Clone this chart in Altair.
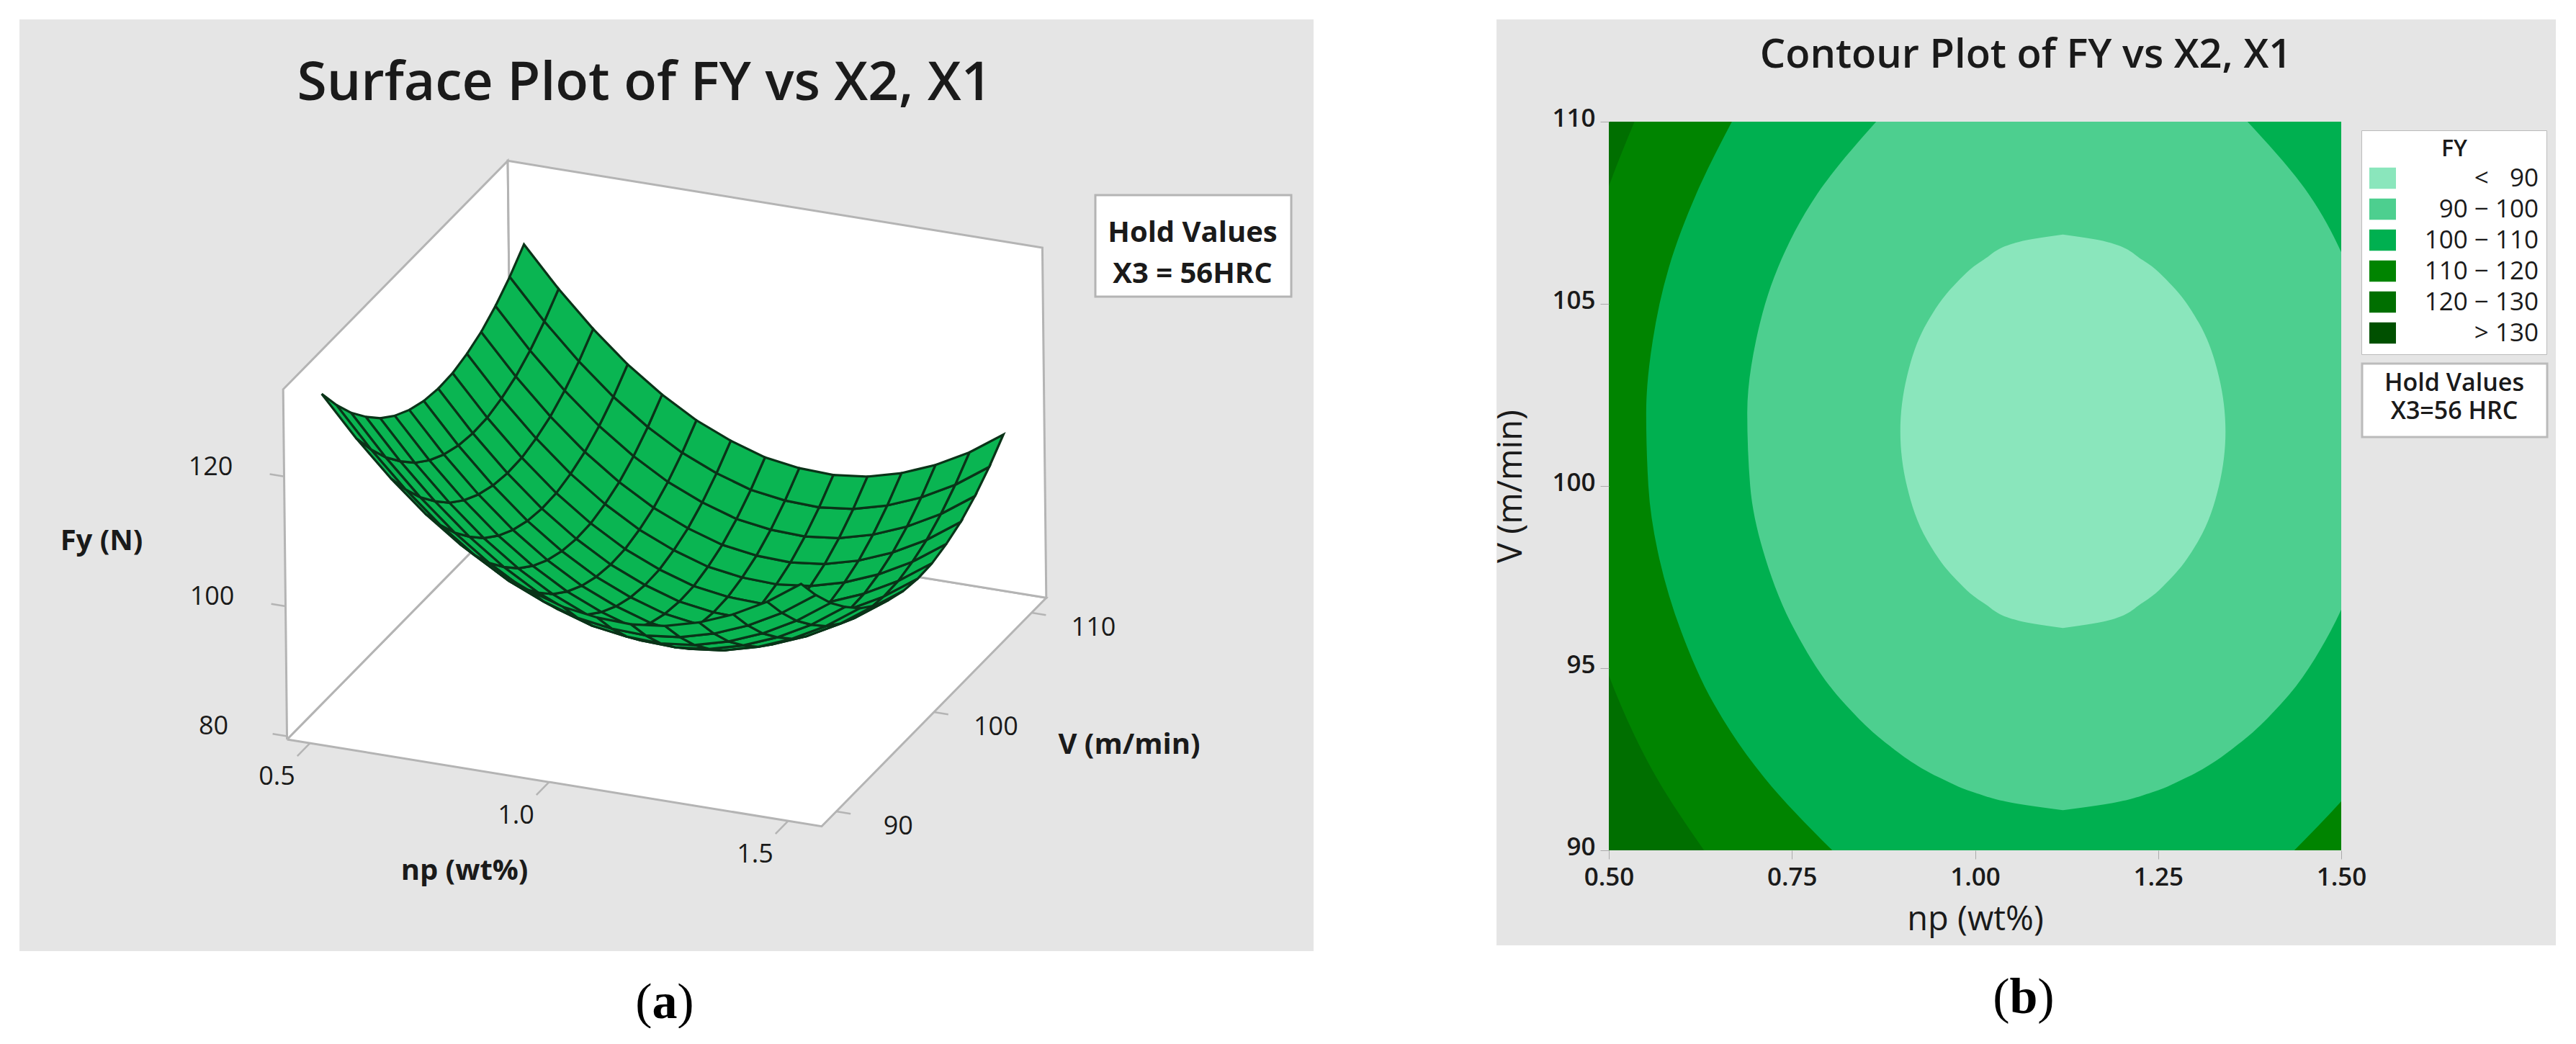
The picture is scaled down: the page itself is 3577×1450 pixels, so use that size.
import altair as alt
import pandas as pd

# ---- panel (a): surface
np_grid = [0.5, 0.5714, 0.6429, 0.7143, 0.7857, 0.8571, 0.9286, 1.0, 1.0714, 1.1429, 1.2143, 1.2857, 1.3571, 1.4286, 1.5]
v_grid = [90, 91.43, 92.86, 94.29, 95.71, 97.14, 98.57, 100, 101.43, 102.86, 104.29, 105.71, 107.14, 108.57, 110]
fy_v090 = [131.0, 125.0, 119.7, 115.1, 111.3, 108.2, 105.9, 104.2, 103.4, 103.2, 103.8, 105.2, 107.3, 110.1, 113.7]
fy_v091 = [127.1, 121.1, 115.8, 111.2, 107.4, 104.3, 102.0, 100.3, 99.5, 99.3, 99.9, 101.3, 103.4, 106.2, 109.8]
fy_v093 = [123.7, 117.7, 112.4, 107.8, 104.0, 100.9, 98.6, 96.9, 96.1, 95.9, 96.5, 97.9, 100.0, 102.8, 106.4]
fy_v094 = [120.9, 114.9, 109.6, 105.0, 101.2, 98.1, 95.8, 94.1, 93.3, 93.1, 93.7, 95.1, 97.2, 100.0, 103.6]
fy_v096 = [118.5, 112.5, 107.2, 102.6, 98.8, 95.7, 93.4, 91.7, 90.9, 90.7, 91.3, 92.7, 94.8, 97.6, 101.2]
fy_v097 = [116.7, 110.7, 105.4, 100.8, 97.0, 93.9, 91.6, 89.9, 89.1, 88.9, 89.5, 90.9, 93.0, 95.8, 99.4]
fy_v099 = [115.4, 109.4, 104.1, 99.5, 95.7, 92.6, 90.3, 88.6, 87.8, 87.6, 88.2, 89.6, 91.7, 94.5, 98.1]
fy_v100 = [114.6, 108.6, 103.3, 98.7, 94.9, 91.8, 89.5, 87.8, 87.0, 86.8, 87.4, 88.8, 90.9, 93.7, 97.3]
fy_v101 = [114.3, 108.3, 103.0, 98.4, 94.6, 91.5, 89.2, 87.5, 86.7, 86.5, 87.1, 88.5, 90.6, 93.4, 97.0]
fy_v103 = [114.5, 108.5, 103.2, 98.6, 94.8, 91.7, 89.4, 87.7, 86.9, 86.7, 87.3, 88.7, 90.8, 93.6, 97.2]
fy_v104 = [115.3, 109.3, 104.0, 99.4, 95.6, 92.5, 90.2, 88.5, 87.7, 87.5, 88.1, 89.5, 91.6, 94.4, 98.0]
fy_v106 = [116.5, 110.5, 105.2, 100.6, 96.8, 93.7, 91.4, 89.7, 88.9, 88.7, 89.3, 90.7, 92.8, 95.6, 99.2]
fy_v107 = [118.3, 112.3, 107.0, 102.4, 98.6, 95.5, 93.2, 91.5, 90.7, 90.5, 91.1, 92.5, 94.6, 97.4, 101.0]
fy_v109 = [120.6, 114.6, 109.3, 104.7, 100.9, 97.8, 95.5, 93.8, 93.0, 92.8, 93.4, 94.8, 96.9, 99.7, 103.3]
fy_v110 = [123.4, 117.4, 112.1, 107.5, 103.7, 100.6, 98.3, 96.6, 95.8, 95.6, 96.2, 97.6, 99.7, 102.5, 106.1]
fy_rows = [fy_v090, fy_v091, fy_v093, fy_v094, fy_v096, fy_v097, fy_v099, fy_v100,
           fy_v101, fy_v103, fy_v104, fy_v106, fy_v107, fy_v109, fy_v110]

np_ticks = [0.5, 1.0, 1.5]
v_ticks = [90, 100, 110]
fy_ticks = [80, 100, 120]

# ---- panel (b): contour boundaries, np at the left and right of each V
bands = ["<  \u200790\u00a0\u00a0", "90  \u2212  100\u00a0\u00a0", "100  \u2212  110\u00a0\u00a0",
         "110  \u2212  120\u00a0\u00a0", "120  \u2212  130\u00a0\u00a0", ">  130\u00a0\u00a0"]
band_colors = ["#8AE6BC", "#4DCF8F", "#00B050", "#008400", "#006F00", "#005000"]

v_120 = [90, 92, 94, 96, 98, 100, 102, 104, 106, 108, 110]
left_120 = [0.630, 0.565, 0.516, 0.48, 0.456, 0.443, 0.44, 0.448, 0.466, 0.496, 0.535]
right_120 = [1.75, 1.8, 1.8, 1.8, 1.8, 1.8, 1.8, 1.8, 1.8, 1.8, 1.75]

v_110 = [90, 92, 94, 96, 98, 100, 102, 104, 106, 108, 110]
left_110 = [0.805, 0.712, 0.644, 0.599, 0.569, 0.554, 0.551, 0.56, 0.582, 0.619, 0.668]
right_110 = [1.436, 1.528, 1.596, 1.641, 1.671, 1.686, 1.689, 1.68, 1.658, 1.621, 1.565]

v_100 = [91.1, 91.3, 91.6, 92, 93, 94, 96, 98, 100, 102, 104, 106, 108, 110]
left_100 = [1.12, 1.052, 0.997, 0.951, 0.875, 0.823, 0.755, 0.714, 0.693, 0.689, 0.701, 0.731, 0.784, 0.865]
right_100 = [1.12, 1.188, 1.243, 1.289, 1.365, 1.417, 1.485, 1.526, 1.547, 1.551, 1.539, 1.509, 1.456, 1.372]

v_90 = [96.1, 96.3, 96.8, 97.5, 98.5, 100, 101.5, 103, 104.5, 105.5, 106.2, 106.7, 106.9]
left_90 = [1.12, 1.06, 1.011, 0.971, 0.935, 0.907, 0.898, 0.907, 0.935, 0.971, 1.011, 1.06, 1.12]
right_90 = [1.12, 1.18, 1.229, 1.269, 1.305, 1.333, 1.342, 1.333, 1.305, 1.269, 1.229, 1.18, 1.12]

FONT = "Open Sans"
GREY = "#E5E5E5"
WALL = "#B4B4B4"
TEXT = "#1A1A1A"
SURF = "#0AB552"
MESH = "#0A3318"

# box limits of the 3d axes
NP_LO, NP_HI = 0.452, 1.57
V_LO, V_HI = 88.5, 111.5
F_LO, F_HI = 79.5, 133.4


def sx(n, v, f):
    return 923 + 664 * (n - 1.011) + 13.56 * (v - 100) - 0.1 * (f - 106.4)


def sy(n, v, f):
    return 686 + 108 * (n - 1.011) - 13.8 * (v - 100) - 9.02 * (f - 106.4)


def depth(n, v, f):
    return -123.7 * n + 5978 * v - 10627 * f


# mesh cells, far ones first
cells = []
for j in range(14):
    for i in range(14):
        corners = [(i, j), (i + 1, j), (i + 1, j + 1), (i, j + 1), (i, j)]
        pts = [(np_grid[a], v_grid[b], fy_rows[b][a]) for a, b in corners]
        d = sum(depth(*p) for p in pts[:4]) / 4
        cells.append((d, pts))
cells.sort(key=lambda c: -c[0])

rows = []
for c, (d, pts) in enumerate(cells):
    for k, p in enumerate(pts):
        # the far side of the surface sits a little right of the box projection
        rows.append({"cell": c, "k": k, "x": sx(*p) + 0.45 * (p[1] - 90) + 1, "y": sy(*p)})
mesh = pd.DataFrame(rows)

walls = []
wall_corners = [
    [(NP_LO, V_LO, F_LO), (NP_HI, V_LO, F_LO), (NP_HI, V_HI, F_LO), (NP_LO, V_HI, F_LO), (NP_LO, V_LO, F_LO)],
    [(NP_LO, V_LO, F_LO), (NP_LO, V_LO, F_HI), (NP_LO, V_HI, F_HI), (NP_LO, V_HI, F_LO), (NP_LO, V_LO, F_LO)],
    [(NP_LO, V_HI, F_LO), (NP_LO, V_HI, F_HI), (NP_HI, V_HI, F_HI), (NP_HI, V_HI, F_LO), (NP_LO, V_HI, F_LO)],
]
for w, pts in enumerate(wall_corners):
    for k, p in enumerate(pts):
        walls.append({"wall": w, "k": k, "x": sx(*p), "y": sy(*p)})
walls = pd.DataFrame(walls)

# tick marks and their labels
tick_rows, tick_text = [], []
for t in np_ticks:
    a, b = (t, V_LO, F_LO), (t, V_LO - 1.3, F_LO)
    tick_rows += [{"t": f"n{t}", "k": 0, "x": sx(*a), "y": sy(*a)}, {"t": f"n{t}", "k": 1, "x": sx(*b), "y": sy(*b)}]
    tick_text.append({"label": f"{t:.1f}", "x": sx(*a) - 46, "y": sy(*a) + 47})
for t in v_ticks:
    a, b = (NP_HI, t, F_LO), (NP_HI + 0.03, t, F_LO)
    tick_rows += [{"t": f"v{t}", "k": 0, "x": sx(*a), "y": sy(*a)}, {"t": f"v{t}", "k": 1, "x": sx(*b), "y": sy(*b)}]
    tick_text.append({"label": str(t), "x": sx(*a) + 86, "y": sy(*a) + 21})
for t in fy_ticks:
    a, b = (NP_LO, V_LO, t), (NP_LO - 0.03, V_LO, t)
    tick_rows += [{"t": f"f{t}", "k": 0, "x": sx(*a), "y": sy(*a)}, {"t": f"f{t}", "k": 1, "x": sx(*b), "y": sy(*b)}]
    tick_text.append({"label": str(t), "x": sx(*a) - 102, "y": sy(*a) - 13})
tick_rows = pd.DataFrame(tick_rows)
tick_text = pd.DataFrame(tick_text)

A_LEFT, A_RIGHT, A_TOP, A_BOTTOM = 27, 1824, 27, 1321
PLOT_TOP = 169  # both plot areas start at this height in the concat
x_a = alt.X("x:Q", axis=None, scale=alt.Scale(domain=[A_LEFT, A_RIGHT], nice=False, zero=False))
y_a = alt.Y("y:Q", axis=None, scale=alt.Scale(domain=[A_BOTTOM, PLOT_TOP], nice=False, zero=False))


def label(text, x, y, size, weight="normal", font=FONT, color=TEXT):
    return alt.Chart(pd.DataFrame({"x": [x], "y": [y], "label": [text]})).mark_text(
        font=font, fontSize=size, fontWeight=weight, color=color, align="center", baseline="middle"
    ).encode(x=x_a, y=y_a, text="label:N")


panel_rect = alt.Chart(pd.DataFrame({"a": [0]})).mark_rect(fill=GREY).encode(
    x=alt.value(0), x2=alt.value(A_RIGHT - A_LEFT), y=alt.value(A_TOP - PLOT_TOP), y2=alt.value(A_BOTTOM - PLOT_TOP))
wall_layer = alt.Chart(walls).mark_line(fill="white", stroke=WALL, strokeWidth=3).encode(
    x=x_a, y=y_a, detail="wall:N", order="k:Q")
tick_layer = alt.Chart(tick_rows).mark_line(stroke=WALL, strokeWidth=2.5).encode(
    x=x_a, y=y_a, detail="t:N", order="k:Q")
mesh_layer = alt.Chart(mesh).mark_line(fill=SURF, stroke=MESH, strokeWidth=3.2).encode(
    x=x_a, y=y_a, detail="cell:N", order="k:Q")
tick_labels = alt.Chart(tick_text).mark_text(font=FONT, fontSize=36, color=TEXT).encode(x=x_a, y=y_a, text="label:N")
hold_box = alt.Chart(pd.DataFrame({"x": [1521], "x2": [1793], "y": [271], "y2": [412]})).mark_rect(
    fill="white", stroke=WALL, strokeWidth=3).encode(x=x_a, x2="x2:Q", y=y_a, y2="y2:Q")

panel_a = alt.layer(
    panel_rect, wall_layer, tick_layer, mesh_layer, tick_labels, hold_box,
    label("Surface Plot of FY vs X2, X1", 895, 116, 75, 600),
    label("Hold Values", 1656, 324, 40, "bold"),
    label("X3 = 56HRC", 1656, 381, 40, "bold"),
    label("Fy (N)", 141, 752, 40, "bold"),
    label("np (wt%)", 645, 1210, 40, "bold"),
    label("V (m/min)", 1568, 1035, 40, "bold"),
    label("(", 894, 1393, 70, font="Liberation Serif", color="black"),
    label("a", 923, 1393, 70, "bold", font="Liberation Serif", color="black"),
    label(")", 952, 1393, 70, font="Liberation Serif", color="black"),
).properties(width=A_RIGHT - A_LEFT, height=A_BOTTOM - PLOT_TOP, view=alt.ViewConfig(stroke=None))

# ---- panel (b)
x_b = alt.X("left:Q", title="np (wt%)", scale=alt.Scale(domain=[0.5, 1.5], nice=False, zero=False),
            axis=alt.Axis(values=[0.5, 0.75, 1.0, 1.25, 1.5], format=".2f", grid=False, domain=False,
                          tickColor="#AAAAAA", tickSize=12, labelFont=FONT, labelFontSize=35, labelFontWeight=600,
                          labelColor=TEXT, labelFlush=False, labelPadding=8, titleFont=FONT, titleFontSize=47,
                          titleFontWeight=500, titleColor=TEXT, titlePadding=18, zindex=1))
y_b = alt.Y("v:Q", title="V (m/min)", scale=alt.Scale(domain=[90, 110], nice=False, zero=False),
            axis=alt.Axis(values=[90, 95, 100, 105, 110], grid=False, domain=False, tickColor="#AAAAAA",
                          tickSize=12, labelFont=FONT, labelFontSize=35, labelFontWeight=600, labelColor=TEXT,
                          labelFlush=False, labelPadding=7, labelOffset=-5, titleFont=FONT, titleFontSize=47,
                          titleFontWeight=500, titleColor=TEXT, titlePadding=32, zindex=1))
color_b = alt.Color("band:N", scale=alt.Scale(domain=bands, range=band_colors), legend=alt.Legend(
    title="\u00a0\u00a0\u00a0\u00a0FY", orient="none", legendX=3252, legendY=12, fillColor="white",
    strokeColor="#BBBBBB", padding=11, symbolType="M-1,-0.8H1V0.8H-1Z", symbolSize=1369,
    symbolStrokeWidth=0, labelFont=FONT, labelFontSize=35, labelColor=TEXT, labelAlign="right", labelOffset=198,
    labelLimit=400, titleFont=FONT, titleFontSize=32, titleColor=TEXT, titleFontWeight=600,
    titleAnchor="middle", rowPadding=6))


def band(name, vs, lefts, rights):
    df = pd.DataFrame({"v": vs, "left": lefts, "right": rights, "band": name})
    return alt.Chart(df).mark_area(orient="horizontal", interpolate="monotone", clip=True).encode(
        x=x_b, x2="right:Q", y=y_b, color=color_b)


def note(text, x, y, size=34, font=FONT, weight="normal", color=TEXT):
    return alt.Chart(pd.DataFrame({"t": [text]})).mark_text(font=font, fontSize=size, fontWeight=weight, color=color).encode(
        text="t:N", x=alt.value(x - 2233), y=alt.value(y - PLOT_TOP))


def box(x0, x1, y0, y1, fill, stroke=None):
    kw = {"stroke": stroke, "strokeWidth": 3} if stroke else {}
    return alt.Chart(pd.DataFrame({"a": [0]})).mark_rect(fill=fill, **kw).encode(
        x=alt.value(x0 - 2233), x2=alt.value(x1 - 2233), y=alt.value(y0 - PLOT_TOP), y2=alt.value(y1 - PLOT_TOP))


panel_b = alt.layer(
    box(2077, 3548, 27, 1313, GREY),
    band(bands[4], [90, 110], [0.5, 0.5], [1.5, 1.5]),
    band(bands[3], v_120, left_120, right_120),
    band(bands[2], v_110, left_110, right_110),
    band(bands[1], v_100, left_100, right_100),
    band(bands[0], v_90, left_90, right_90),
    box(3279, 3536, 505, 607, "white", "#BBBBBB"),
    note("Hold Values", 3407, 533, 34, weight=600),
    note("X3=56 HRC", 3407, 572, 34, weight=600),
    note("Contour Plot of FY vs X2, X1", 2812, 77, 56, weight=600),
    note("(", 2778, 1386, 70, "Liberation Serif", color="black"),
    note("b", 2809, 1386, 70, "Liberation Serif", "bold", "black"),
    note(")", 2840, 1386, 70, "Liberation Serif", color="black"),
).properties(width=1017, height=1012, view=alt.ViewConfig(stroke=None))

chart = alt.hconcat(panel_a, panel_b, spacing=250, bounds="full").properties(
    padding={"left": 19, "top": 19, "right": 0, "bottom": 0}, background="white"
)
chart.save("out.html", embed_options={"renderer": "svg", "actions": False})
